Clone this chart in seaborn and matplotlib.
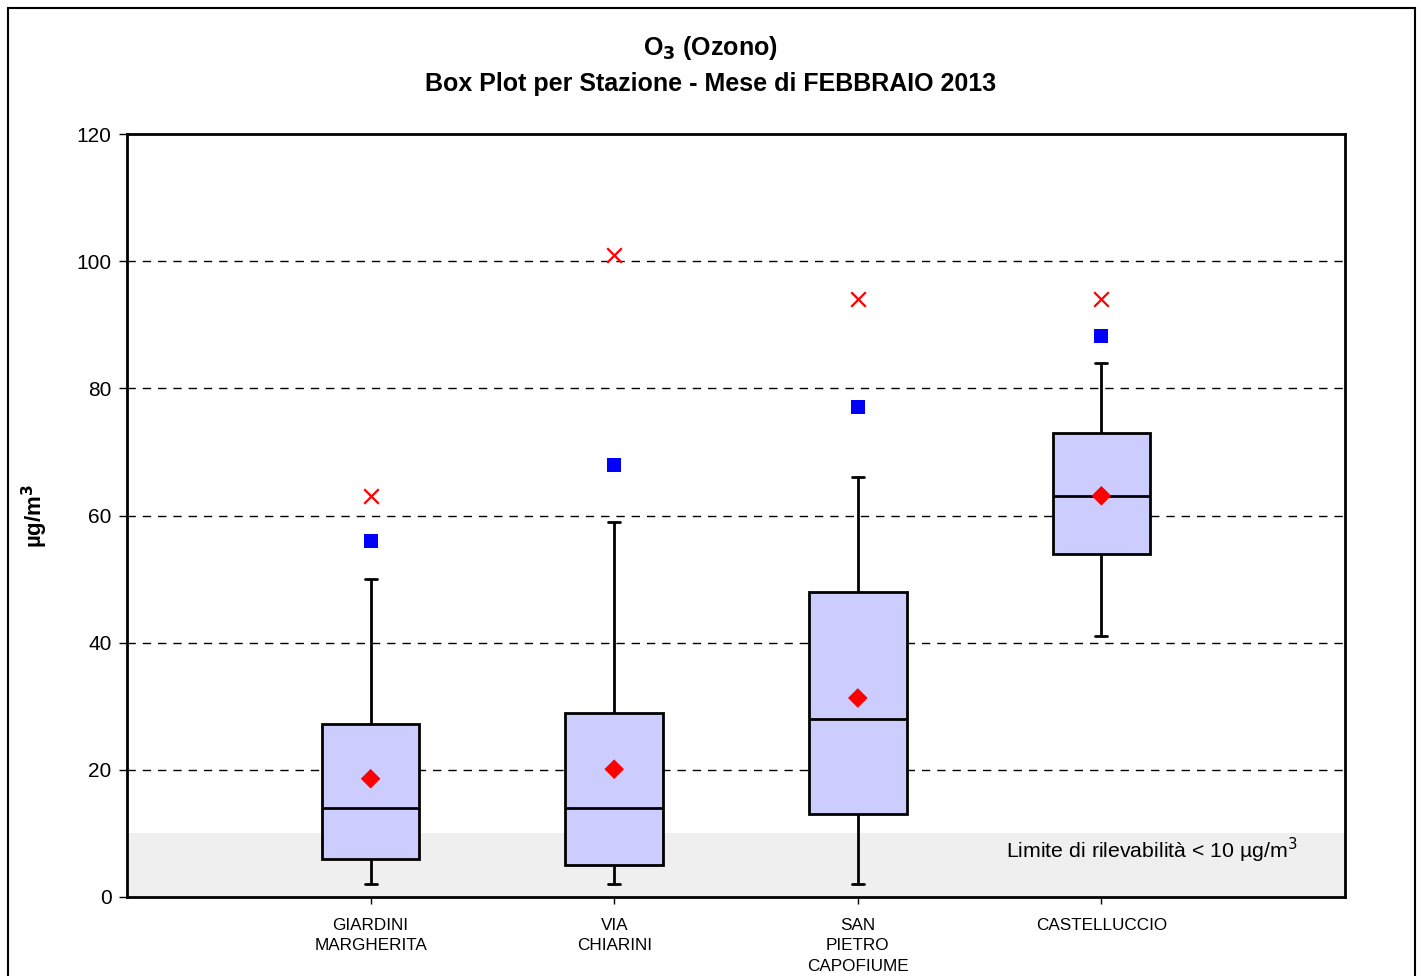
import matplotlib
matplotlib.use("Agg")
import matplotlib.pyplot as plt
import seaborn as sns
import pandas as pd
from matplotlib.patches import Rectangle

# ---- data ----
stations = ["GIARDINI\nMARGHERITA", "VIA\nCHIARINI", "SAN\nPIETRO\nCAPOFIUME", "CASTELLUCCIO"]
minimum = [2, 2, 2, 41]
q1 = [6, 5, 13, 54]
median = [14, 14, 28, 63]
q3 = [27.2, 29, 48, 73]
whisk_max = [50, 59, 66, 84]
mean = [18.6, 20.1, 31.3, 63.1]
p98 = [56, 68, 77, 88.2]
maximum = [63, 101, 94, 94]
yticks = [0, 20, 40, 60, 80, 100, 120]
detect_limit = 10

# five-number summaries -> long table (linear percentiles of 5 points reproduce them)
rows = []
for i, s in enumerate(stations):
    for v in (minimum[i], q1[i], median[i], q3[i], whisk_max[i]):
        rows.append({"station": s, "value": v})
df = pd.DataFrame(rows)
marks = pd.DataFrame({"pos": range(len(stations)), "mean": mean, "p98": p98, "max": maximum})

sns.set_theme(style="white")
plt.rcParams["font.family"] = ["Liberation Sans", "DejaVu Sans"]
plt.rcParams["text.color"] = "black"
plt.rcParams["axes.labelcolor"] = "black"
plt.rcParams["xtick.color"] = "black"
plt.rcParams["ytick.color"] = "black"

fig = plt.figure(figsize=(14.21, 9.76), dpi=100)
ax = fig.add_axes([127 / 1421, 79 / 976, 1218 / 1421, 763 / 976])

ax.axhspan(0, detect_limit, color="#efefef", zorder=0, lw=0)
for t in yticks[1:-1]:
    ax.axhline(t, color="black", lw=1, ls=(0, (6, 5)), zorder=0.5)

sns.boxplot(data=df, x="station", y="value", order=stations, whis=(0, 100),
            width=0.4, color="#ccccff", linecolor="black", linewidth=2,
            saturation=1, ax=ax, zorder=2,
            boxprops=dict(facecolor="#ccccff", edgecolor="black", linewidth=2),
            capwidths=0.05)

sns.scatterplot(data=marks, x="pos", y="mean", marker="D", color="red", s=100,
                edgecolor="none", ax=ax, zorder=5)
sns.scatterplot(data=marks, x="pos", y="p98", marker="s", color="blue", s=100,
                edgecolor="none", ax=ax, zorder=5)
sns.scatterplot(data=marks, x="pos", y="max", marker="x", color="red", s=110,
                linewidth=1.6, ax=ax, zorder=5)

ax.set_xlim(-1, 4)
ax.set_ylim(0, 120)
ax.set_yticks(yticks)
ax.set_xticks(range(len(stations)))
ax.set_xticklabels(stations, fontsize=12.3, linespacing=1.45)
ax.tick_params(axis="y", labelsize=15, length=6, width=1, direction="out", left=True, pad=5)
ax.tick_params(axis="x", length=5, width=1, direction="out", bottom=True, pad=10)
ax.set_xlabel("")
ax.set_ylabel("µg/m$^\\mathbf{3}$", fontsize=16, fontweight="bold")
ax.yaxis.set_label_coords(-(127 - 50) / 1218, 0.5)
for sp in ax.spines.values():
    sp.set_visible(True)
    sp.set_color("black")
    sp.set_linewidth(2)

ax.text(3.803, 7.4, "Limite di rilevabilità < 10 µg/m$^3$", ha="right", va="center",
        fontsize=15.3, zorder=6)

fig.text(0.5, 1 - 48 / 976, "O$_\\mathbf{3}$ (Ozono)", ha="center", va="center",
         fontsize=18, fontweight="bold")
fig.text(0.5, 1 - 84 / 976, "Box Plot per Stazione - Mese di FEBBRAIO 2013", ha="center",
         va="center", fontsize=18, fontweight="bold")

fig.patches.append(Rectangle((8 / 1421, -0.05), (1415 - 8) / 1421, 1.05 - 8 / 976,
                             transform=fig.transFigure, fill=False, edgecolor="black",
                             linewidth=1.5))

fig.savefig("out.png", dpi=100)
